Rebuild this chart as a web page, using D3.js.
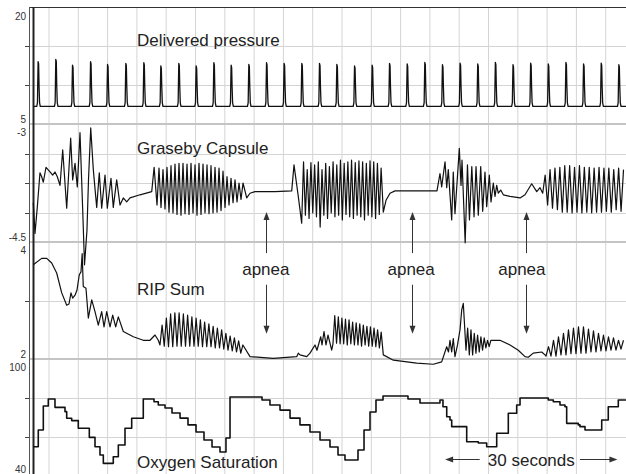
<!DOCTYPE html>
<html>
<head>
<meta charset="utf-8">
<script src="https://cdn.jsdelivr.net/npm/d3@7"></script>
<style>
body { margin: 0; background: #fff; }
svg { display: block; font-family: "Liberation Sans", Arial, sans-serif; }
</style>
</head>
<body>
<div id="chart"></div>
<script>

/****** data (time in seconds) ******/
var pressureBase = 7.25;
var pressureTimes = [3.17, 6.19, 9.04, 12.12, 15.02, 18.14, 21.21, 24.11, 27.18, 30.14, 33.16, 36.11,
    39.13, 42.15, 45.15, 48.17, 51.19, 54.15, 57.17, 60.17, 63.14, 66.15, 69.16, 72.17, 75.18,
    78.19, 81.2, 84.21, 87.22, 90.23, 93.24, 96.25, 99.26, 102.27];
var pressurePeaks = [12.99, 13.29, 12.56, 12.99, 12.65, 12.78, 12.86, 12.44, 12.78, 12.44, 12.86, 12.53,
    12.65, 12.86, 12.78, 12.78, 12.78, 12.65, 12.44, 12.53, 12.78, 12.7, 12.9, 12.6, 12.8,
    12.7, 12.9, 12.6, 12.8, 12.7, 12.9, 12.7, 12.8, 12.6];

var grasebyLead = [[2.32,-4.00],[2.61,-4.39],[3.00,-4.06],[3.46,-3.62],[3.75,-3.67],[4.03,-3.74],[4.49,-3.55],
    [5.17,-3.61],[5.63,-3.65],[6.02,-3.61],[6.42,-3.67],[6.88,-3.78],[7.34,-3.33],[8.02,-4.07],[8.70,-3.18],
    [9.04,-3.71],[9.44,-3.50],[9.83,-3.80],[10.29,-3.11],[10.75,-4.09],[11.06,-4.79],[11.48,-4.35],[11.74,-3.71],
    [12.12,-3.05],[12.56,-3.58],[13.14,-4.06],[13.58,-3.62],[13.99,-4.07],[14.56,-3.65],[14.95,-4.07],
    [15.58,-3.69],[15.97,-4.06],[16.55,-3.71],[17.12,-4.03],[17.68,-3.94],[18.26,-3.99],[18.82,-3.94],
    [20.53,-3.90],[22.53,-3.86],[22.94,-3.55]];
var grasebyHi1 = [-3.56,-3.58,-3.55,-3.53,-3.51,-3.50,-3.50,-3.51,-3.50,-3.52,-3.50,-3.51,-3.52,-3.53,-3.55,-3.56,-3.60,-3.67,-3.69,-3.71,-3.75,-3.75];
var grasebyLo1 = [-4.03,-4.06,-4.08,-4.12,-4.13,-4.15,-4.16,-4.14,-4.15,-4.13,-4.16,-4.15,-4.13,-4.14,-4.13,-4.12,-4.10,-4.06,-4.03,-4.00,-3.99,-3.96];
var grasebyMid1 = [[38.74,-3.94],[39.3,-3.88],[40.15,-3.86],[43.57,-3.86],[46.42,-3.85],[46.81,-3.52],[47.54,-3.92]];
var grasebyHi2 = [-3.48,-3.58,-3.49,-3.52,-3.48,-3.58,-3.50,-3.54,-3.48,-3.52,-3.46,-3.50,-3.48,-3.46,-3.49,-3.47,-3.48,-3.50,-3.47,-3.48,-3.50,-3.56];
var grasebyLo2 = [-4.26,-4.16,-4.20,-4.13,-4.18,-4.31,-4.16,-4.20,-4.13,-4.18,-4.16,-4.22,-4.15,-4.18,-4.20,-4.16,-4.18,-4.22,-4.16,-4.18,-4.20,-4.15];
var grasebyMid2 = [[62.05,-4.12],[62.51,-3.97],[63.19,-3.88],[64.05,-3.85],[66.61,-3.85],[71.21,-3.85],
    [71.72,-3.63],[72.01,-3.80],[72.58,-3.48],[72.87,-3.81],[73.14,-3.58],[73.72,-4.22],[73.99,-3.61],
    [74.28,-4.14],[75.02,-3.31],[75.31,-3.78],[75.48,-3.46],[76.02,-4.51],[76.41,-3.52],[76.75,-4.22],
    [77.15,-3.54],[77.53,-4.18],[77.87,-3.54],[78.26,-4.16],[78.67,-3.54],[79.01,-4.11],[79.40,-3.61],
    [79.69,-4.05],[80.14,-3.65],[80.43,-3.99],[80.82,-3.75],[81.11,-3.92],[81.40,-3.78],[81.67,-3.88],
    [82.08,-3.84],[82.53,-3.90],[83.67,-3.92],[85.38,-3.94],[86.23,-3.90],[87.37,-3.76],[88.23,-3.86],
    [88.79,-3.81]];
var grasebyHi3 = [-3.65,-3.58,-3.56,-3.55,-3.53,-3.53,-3.55,-3.53,-3.55,-3.55,-3.56,-3.55,-3.56,-3.56,-3.58,-3.56,-3.58];
var grasebyLo3 = [-3.88,-4.03,-4.07,-4.09,-4.12,-4.12,-4.13,-4.12,-4.13,-4.12,-4.13,-4.12,-4.12,-4.11,-4.12,-4.09,-4.11];

var ripLead = [[2.32,3.61],[3.75,3.72],[4.61,3.72],[5.46,3.64],[6.31,3.47],[7.17,3.13],[8.02,2.92],[8.41,2.94],
    [8.75,3.13],[9.04,3.04],[9.44,3.09],[9.78,3.18],[10.17,3.44],[10.46,3.49],[10.66,3.80],[10.85,3.24],
    [11.31,3.21],[11.71,2.70],[12.29,3.01],[12.85,2.81],[13.41,2.58],[13.99,2.81],[14.39,2.55],[14.85,2.81],
    [15.41,2.55],[15.87,2.75],[16.38,2.55],[16.83,2.72],[17.68,2.47],[19.39,2.38],[21.09,2.32],[22.24,2.32],
    [23.09,2.41],[23.65,2.32]];
var ripHi1 = [2.58,2.70,2.77,2.79,2.79,2.77,2.75,2.72,2.70,2.67,2.63,2.60,2.56,2.53,2.50,2.44,2.39,2.36,2.31,2.24];
var ripLo1 = [2.24,2.22,2.21,2.21,2.22,2.22,2.22,2.22,2.22,2.22,2.21,2.21,2.21,2.19,2.19,2.17,2.15,2.14,2.12,2.10];
var ripMid1 = [[39.30,2.04],[43.28,2.01],[47.27,2.04],[47.54,2.10],[47.83,2.07],[48.98,2.04],[49.54,2.10],
    [50.39,2.24],[50.73,2.15],[51.37,2.38],[51.59,2.24],[51.93,2.47],[52.27,2.24],[52.61,2.41],[53.24,2.15]];
var ripHi2 = [2.74,2.72,2.70,2.68,2.67,2.63,2.62,2.60,2.58,2.56,2.55,2.53,2.50,2.46];
var ripLo2 = [2.26,2.27,2.26,2.26,2.24,2.26,2.24,2.24,2.22,2.24,2.22,2.22,2.21,2.19];
var ripMid2 = [[62.05,2.07],[63.76,1.98],[67.75,1.93],[70.58,1.91],[72.01,1.95],[72.87,2.21],[73.17,2.12],
    [73.43,2.32],[73.72,2.12],[73.99,2.35],[74.28,2.04],[74.71,2.24],[75.14,2.50],[75.43,2.84],[75.70,2.95]];
var ripHi3 = [2.53,2.50,2.44,2.41,2.38,2.36,2.32,2.32];
var ripLo3 = [2.15,2.07,2.07,2.10,2.12,2.15,2.19,2.21];
var ripMid3 = [[81.96,2.32],[83.67,2.24],[85.08,2.15],[86.23,2.04],[86.79,2.03],[87.64,2.10],[89.08,2.12],[89.64,2.07]];
var ripHi4 = [2.21,2.32,2.38,2.44,2.50,2.53,2.55,2.55,2.51,2.48,2.44,2.41,2.38,2.36,2.32,2.32];
var ripLo4 = [2.05,2.05,2.05,2.07,2.07,2.09,2.09,2.10,2.10,2.12,2.12,2.14,2.14,2.15,2.15,2.17];

var spo2 = [[2.32,55.0],[3.17,63.6],[4.03,75.9],[4.88,79.5],[6.02,75.2],[7.73,73.0],[8.02,69.6],[8.87,68.4],
    [10.00,64.5],[11.88,59.8],[12.85,55.0],[13.70,50.8],[14.27,46.5],[15.97,49.9],[16.83,55.9],[17.97,64.5],
    [19.11,69.6],[21.09,79.5],[22.92,78.1],[23.65,76.4],[24.80,74.9],[25.99,72.3],[27.36,69.7],[28.72,66.2],
    [30.09,62.6],[31.45,58.5],[32.82,54.9],[34.18,52.3],[35.20,59.5],[35.89,80.5],[41.35,79.0],[42.71,76.4],
    [44.42,73.8],[46.13,69.7],[47.83,66.2],[49.54,62.6],[51.25,58.5],[52.95,54.9],[54.32,50.8],[55.51,48.2],
    [57.73,53.3],[58.76,63.6],[59.78,72.8],[60.80,79.0],[62.00,81.0],[66.26,79.5],[68.31,77.4],[71.72,79.0],
    [72.23,75.5],[72.87,70.4],[73.43,68.7],[73.72,65.3],[76.28,57.6],[78.26,56.9],[79.69,55.0],[81.40,61.9],
    [83.38,72.2],[84.81,76.4],[85.38,80.0],[90.20,79.0],[91.06,78.1],[92.20,76.4],[93.05,75.5],[93.34,67.0],
    [95.32,66.2],[95.61,65.3],[96.47,63.6],[99.32,68.7],[100.44,75.5],[102.15,79.0],[103.46,79.0]];

var panelTitles = ["Delivered pressure", "Graseby Capsule", "RIP Sum", "Oxygen Saturation"];
var apneaTimes = [42.0, 66.8, 85.7];
var apneaArrowTimes = [42.0, 67.0, 86.4];

/****** scales ******/
var width = 626, height = 474;
var svg = d3.select("#chart").append("svg").attr("width", width).attr("height", height);

var x = d3.scaleLinear().domain([0, 105]).range([19.7, 19.7 + 105 * 5.86]);
var yP = d3.scaleLinear().domain([5, 20]).range([124, 7]);
var yG = d3.scaleLinear().domain([-4.5, -3]).range([242, 124]);
var yR = d3.scaleLinear().domain([2, 4]).range([359, 242]);
var yS = d3.scaleLinear().domain([40, 100]).range([476, 359]);

var panels = [
    {scale: yP, grid: [10, 15], top: "20", bottom: "5"},
    {scale: yG, grid: [-4.125, -3.75, -3.375], top: "-3", bottom: "-4.5"},
    {scale: yR, grid: [3], top: "4", bottom: "2"},
    {scale: yS, grid: [60, 80], top: "100", bottom: "40"}
];

/****** grid ******/
var grid = svg.append("g");
grid.selectAll(".vg").data(d3.range(5, 105, 5)).enter().append("line")
    .attr("x1", d => x(d)).attr("x2", d => x(d))
    .attr("y1", 7).attr("y2", height)
    .attr("stroke", "#d4d4d4").attr("stroke-width", 1);

panels.forEach(function (p) {
    grid.selectAll(null).data(p.grid).enter().append("line")
        .attr("x1", 25).attr("x2", width)
        .attr("y1", d => Math.round(p.scale(d)) + 0.5).attr("y2", d => Math.round(p.scale(d)) + 0.5)
        .attr("stroke", "#d4d4d4").attr("stroke-width", 1);
    // tick nubs left of the axis
    grid.selectAll(null).data(p.grid).enter().append("line")
        .attr("x1", 25).attr("x2", 30)
        .attr("y1", d => Math.round(p.scale(d)) + 0.5).attr("y2", d => Math.round(p.scale(d)) + 0.5)
        .attr("stroke", "#444").attr("stroke-width", 1);
});

// panel boundaries
[124, 242, 359].forEach(function (b) {
    grid.append("line").attr("x1", 29).attr("x2", width).attr("y1", b).attr("y2", b)
        .attr("stroke", "#c4c4c4").attr("stroke-width", 2);
});
grid.append("line").attr("x1", 29).attr("x2", width).attr("y1", 7.5).attr("y2", 7.5)
    .attr("stroke", "#333").attr("stroke-width", 1);
grid.append("line").attr("x1", 29.5).attr("x2", 29.5).attr("y1", 7).attr("y2", height)
    .attr("stroke", "#555").attr("stroke-width", 1);
grid.append("line").attr("x1", 33.5).attr("x2", 33.5).attr("y1", 7).attr("y2", height)
    .attr("stroke", "#222").attr("stroke-width", 2);

// axis labels
var lab = svg.append("g").attr("font-size", 10).attr("fill", "#333").attr("text-anchor", "end");
panels.forEach(function (p) {
    var r = p.scale.range();
    lab.append("text").attr("x", 26).attr("y", r[1] + (r[1] < 10 ? 13 : 12)).text(p.top);
    lab.append("text").attr("x", 26).attr("y", Math.min(r[0] - 1, height - 1)).text(p.bottom);
});

/****** traces ******/
function burst(from, to, hi, lo) {
    var n = hi.length, step = (to - from) / n, out = [];
    for (var i = 0; i < n; i++) {
        out.push([from + i * step, lo[i]]);
        out.push([from + (i + 0.5) * step, hi[i]]);
    }
    return out;
}

var grasebyPts = [].concat(
    grasebyLead,
    burst(23.43, 38.45, grasebyHi1, grasebyLo1),
    grasebyMid1,
    burst(48.12, 61.99, grasebyHi2, grasebyLo2),
    grasebyMid2,
    burst(89.25, 103.46, grasebyHi3, grasebyLo3)
);
var ripPts = [].concat(
    ripLead,
    burst(23.94, 38.45, ripHi1, ripLo1),
    ripMid1,
    burst(53.46, 61.99, ripHi2, ripLo2),
    ripMid2,
    burst(76.16, 80.68, ripHi3, ripLo3),
    ripMid3,
    burst(89.81, 103.46, ripHi4, ripLo4)
);

// each pressure breath: a narrow spike off the baseline
var pressurePts = [[2.4, pressureBase]];
pressureTimes.forEach(function (t, i) {
    var pk = pressurePeaks[i];
    pressurePts.push([t - 0.26, pressureBase], [t - 0.14, pressureBase + 0.5], [t - 0.09, 10.2],
        [t - 0.03, pk], [t + 0.06, pk - 0.3], [t + 0.13, 9.9], [t + 0.22, pressureBase + 0.5],
        [t + 0.34, pressureBase]);
});
pressurePts.push([103.46, pressureBase]);

var traces = svg.append("g").attr("fill", "none").attr("stroke", "#111")
    .attr("stroke-linejoin", "round");

traces.append("path").datum(pressurePts)
    .attr("stroke-width", 1.3)
    .attr("d", d3.line().x(d => x(d[0])).y(d => yP(d[1])));
traces.append("path").datum(grasebyPts)
    .attr("stroke-width", 1.2)
    .attr("d", d3.line().x(d => x(d[0])).y(d => yG(d[1])));
traces.append("path").datum(ripPts)
    .attr("stroke-width", 1.2)
    .attr("d", d3.line().x(d => x(d[0])).y(d => yR(d[1])));
traces.append("path").datum(spo2)
    .attr("stroke-width", 1.6)
    .attr("d", d3.line().curve(d3.curveStepAfter).x(d => x(d[0])).y(d => yS(d[1])));

/****** annotations ******/
var ann = svg.append("g").attr("font-size", 17).attr("fill", "#222");
var titleY = [46, 154, 295, 468];
panelTitles.forEach(function (t, i) {
    ann.append("text").attr("x", 137).attr("y", titleY[i]).text(t);
});

function arrowHead(g, x0, y0, dir) {
    // dir: -1 up, 1 down, -2 left, 2 right
    var p;
    if (dir === -1) p = [[x0, y0], [x0 - 3, y0 + 8], [x0 + 3, y0 + 8]];
    else if (dir === 1) p = [[x0, y0], [x0 - 3, y0 - 8], [x0 + 3, y0 - 8]];
    else if (dir === -2) p = [[x0, y0], [x0 + 8, y0 - 3], [x0 + 8, y0 + 3]];
    else p = [[x0, y0], [x0 - 8, y0 - 3], [x0 - 8, y0 + 3]];
    g.append("path").attr("d", "M" + p.join("L") + "Z").attr("fill", "#333").attr("stroke", "none");
}

apneaTimes.forEach(function (t, i) {
    ann.append("text").attr("x", x(t)).attr("y", yR(3.44)).attr("text-anchor", "middle").text("apnea");
    var ax = Math.round(x(apneaArrowTimes[i])) + 0.5;
    ann.append("line").attr("x1", ax).attr("x2", ax).attr("y1", yR(3.81)).attr("y2", yG(-4.12) + 4)
        .attr("stroke", "#333").attr("stroke-width", 1);
    arrowHead(ann, ax, yG(-4.12), -1);
    ann.append("line").attr("x1", ax).attr("x2", ax).attr("y1", yR(3.27)).attr("y2", yR(2.43) - 4)
        .attr("stroke", "#333").attr("stroke-width", 1);
    arrowHead(ann, ax, yR(2.43), 1);
});

// 30 second scale bar
var sy = Math.round(yS(48.7)) + 0.5;
ann.append("text").attr("x", x(87.3)).attr("y", yS(45.1)).attr("text-anchor", "middle").text("30 seconds");
ann.append("line").attr("x1", x(72.6) + 4).attr("x2", x(78.5)).attr("y1", sy).attr("y2", sy)
    .attr("stroke", "#333").attr("stroke-width", 1);
ann.append("line").attr("x1", x(95.6)).attr("x2", x(102.0) - 4).attr("y1", sy).attr("y2", sy)
    .attr("stroke", "#333").attr("stroke-width", 1);
arrowHead(ann, x(72.6), sy, -2);
arrowHead(ann, x(102.0), sy, 2);

</script>
</body>
</html>
